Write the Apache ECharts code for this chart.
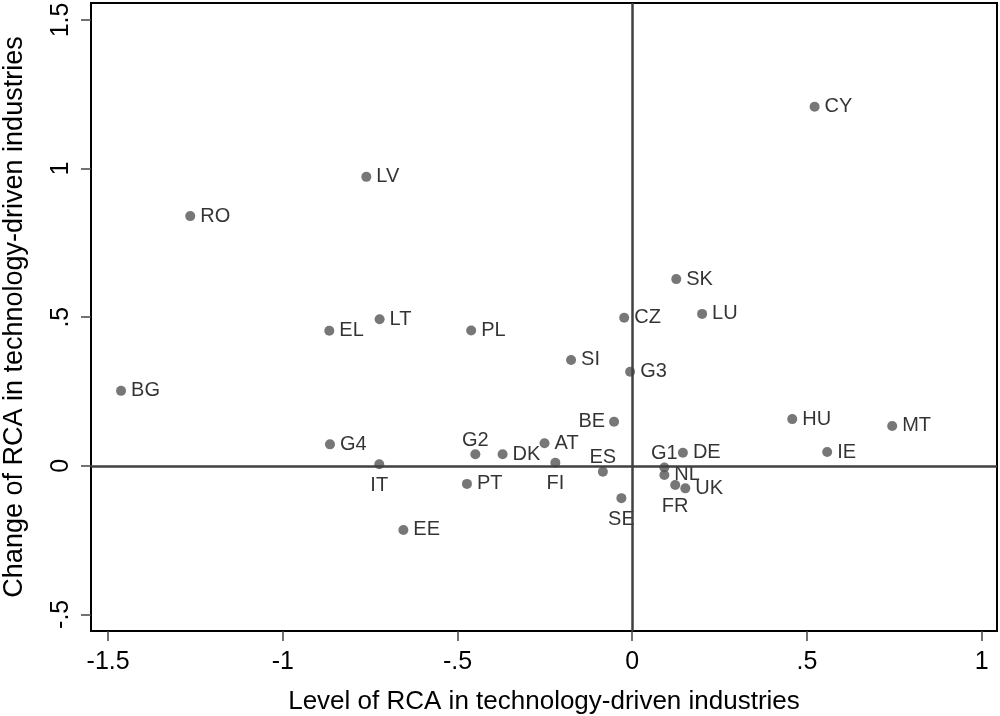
<!DOCTYPE html>
<html>
<head>
<meta charset="utf-8">
<script src="https://cdn.jsdelivr.net/npm/echarts@6/dist/echarts.min.js"></script>
<style>
html,body{margin:0;padding:0;background:#fff;}
#chart{width:1000px;height:716px;}
</style>
</head>
<body>
<div id="chart"></div>
<script>
// ---- data ----
const countries = ['CY','LV','RO','SK','LU','CZ','EL','LT','PL','SI','G3','BG','BE','HU','MT','IE','G4','IT','G2','DK','AT','FI','ES','PT','SE','EE','G1','NL','DE','FR','UK'];
const levelRCA  = [0.522,-0.761,-1.265,0.126,0.200,-0.023,-0.867,-0.723,-0.461,-0.175,-0.006,-1.463,-0.052,0.458,0.744,0.558,-0.865,-0.724,-0.449,-0.371,-0.251,-0.220,-0.084,-0.473,-0.031,-0.655,0.092,0.092,0.145,0.123,0.152];
const changeRCA = [1.208,0.972,0.840,0.628,0.511,0.498,0.454,0.493,0.455,0.356,0.316,0.252,0.148,0.157,0.134,0.046,0.072,0.005,0.039,0.039,0.076,0.010,-0.020,-0.061,-0.109,-0.216,-0.006,-0.031,0.044,-0.065,-0.076];
const xTicks = [-1.5,-1,-0.5,0,0.5,1];
const yTicks = [-0.5,0,0.5,1,1.5];

// ---- label placement (style) ----
const labelPlacement = { BE:'left', G2:'top', ES:'top', G1:'top', IT:'bottom', FI:'bottom', SE:'bottom', FR:'bottom' };
const labelDistance = { left:4, right:5, top:-1, bottom:6 };

function fmt(v){
  if (v === 0) return '0';
  let s = String(v);
  s = s.replace(/^0\./,'.').replace(/^-0\./,'-.');
  return s;
}

const FONT = '"Liberation Sans", Arial, Helvetica, sans-serif';

const points = countries.map((c,i)=>{
  const pos = labelPlacement[c] || 'right';
  return { name:c, value:[levelRCA[i], changeRCA[i]], label:{ position:pos, distance:labelDistance[pos] } };
});

const chart = echarts.init(document.getElementById('chart'), null, {renderer:'canvas'});
chart.setOption({
  animation:false,
  backgroundColor:'#fff',
  grid:{ left:91, right:3, top:3, bottom:85, containLabel:false, outerBoundsMode:'none',
         show:true, borderColor:'#000', borderWidth:2, backgroundColor:'#fff' },
  xAxis:{
    type:'value', min:-1.549, max:1.044,
    name:'Level of RCA in technology-driven industries', nameLocation:'middle', nameGap:58,
    nameTextStyle:{ fontFamily:FONT, fontSize:26, color:'#000' },
    axisLine:{ show:true, onZero:false, lineStyle:{ color:'#000', width:2 } },
    axisTick:{ show:true, length:10, customValues:xTicks, lineStyle:{ color:'#444', width:1.5 } },
    axisLabel:{ customValues:xTicks, formatter:fmt, margin:19, fontFamily:FONT, fontSize:25, color:'#000' },
    splitLine:{ show:false }
  },
  yAxis:{
    type:'value', min:-0.556, max:1.557,
    name:'Change of RCA in technology-driven industries', nameLocation:'middle', nameGap:63, nameRotate:90,
    nameTextStyle:{ fontFamily:FONT, fontSize:27, color:'#000' },
    axisLine:{ show:true, onZero:false, lineStyle:{ color:'#000', width:2 } },
    axisTick:{ show:true, length:10, customValues:yTicks, lineStyle:{ color:'#444', width:1.5 } },
    axisLabel:{ customValues:yTicks, formatter:fmt, rotate:90, margin:17, fontFamily:FONT, fontSize:25, color:'#000' },
    splitLine:{ show:false }
  },
  series:[
    {
      type:'scatter', data:[], z:1, silent:true,
      markLine:{
        silent:true, symbol:['none','none'], label:{ show:false },
        lineStyle:{ color:'#404040', width:2.5, type:'solid' },
        emphasis:{ disabled:true },
        data:[ { xAxis:0 }, { yAxis:0 } ]
      }
    },
    {
      type:'scatter', z:3, symbol:'circle', symbolSize:10,
      itemStyle:{ color:'#555555' },
      label:{ show:true, formatter:'{b}', fontFamily:FONT, fontSize:20, color:'#000' },
      data:points
    }
  ]
});
</script>
</body>
</html>
